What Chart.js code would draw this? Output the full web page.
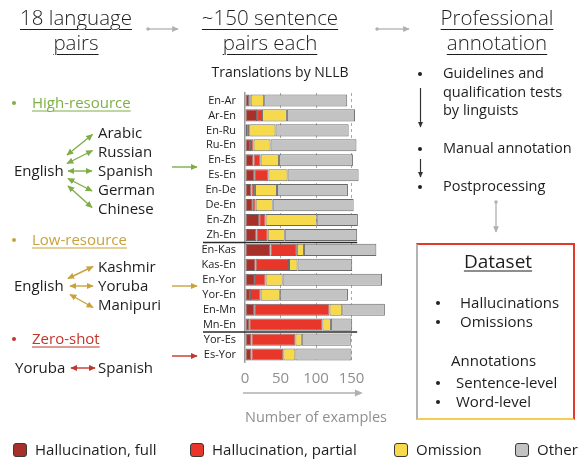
<!DOCTYPE html>
<html>
<head>
<meta charset="utf-8">
<script src="https://cdn.jsdelivr.net/npm/chart.js@4.4.1/dist/chart.umd.min.js"></script>
<style>
  html, body { margin: 0; padding: 0; background: #fff; }
  body { width: 583px; height: 463px; position: relative; overflow: hidden; font-family: "Open Sans", sans-serif; color: #1e1e1e; }
  #wrap { position: absolute; left: 0; top: 0; width: 583px; height: 463px; }
  svg { position: absolute; left: 0; top: 0; }
  .t { position: absolute; white-space: nowrap; line-height: 1; transform: translateY(-50%); font-size: 15px; }
  .c { transform: translate(-50%, -50%); }
  .u { text-decoration: underline; text-decoration-thickness: 1px; text-underline-offset: 3px; }
  .head { position: absolute; font-size: 20.5px; font-weight: 300; line-height: 25px; text-align: center; transform: translateX(-50%); white-space: nowrap;
          text-decoration: underline; text-decoration-thickness: 1px; text-underline-offset: 4px; }
  .dot { position: absolute; width: 4px; height: 4px; border-radius: 50%; transform: translate(-50%, -50%); }
  .r { font-size: 14.5px; }
  #box { position: absolute; left: 416px; top: 243px; width: 159px; height: 177px; box-sizing: border-box;
         border-top: 2px solid #e3392b; border-right: 2px solid #e3392b; border-left: 2px solid #b4b4b4; border-bottom: 2px solid #f1cf52; }
  .lbox { position: absolute; width: 14px; height: 14px; box-sizing: border-box; border: 1px solid #3a3a3a; border-radius: 3px; }
</style>
</head>
<body>
<div id="wrap"><canvas id="chart"></canvas></div>

<!-- headers -->
<div class="head" style="left:76px; top:5px;">18 language<br>pairs</div>
<div class="head" style="left:270px; top:5px;">~150 sentence<br>pairs each</div>
<div class="head" style="left:497px; top:5px;">Professional<br>annotation</div>
<div class="t c" style="left:280px; top:72px; font-size:14px;">Translations by NLLB</div>

<!-- left panel -->
<div class="dot" style="left:14px; top:103px; background:#7fae47;"></div>
<div class="t u" style="left:32px; top:102px; color:#7fae47;">High-resource</div>
<div class="t" style="left:98px; top:132px;">Arabic</div>
<div class="t" style="left:98px; top:151px;">Russian</div>
<div class="t" style="left:98px; top:170px;">Spanish</div>
<div class="t" style="left:98px; top:189px;">German</div>
<div class="t" style="left:98px; top:208px;">Chinese</div>
<div class="t" style="left:14px; top:170px;">English</div>

<div class="dot" style="left:14px; top:240px; background:#c9a23d;"></div>
<div class="t u" style="left:32px; top:239px; color:#c9a23d;">Low-resource</div>
<div class="t" style="left:98px; top:266px;">Kashmir</div>
<div class="t" style="left:98px; top:285px;">Yoruba</div>
<div class="t" style="left:98px; top:304px;">Manipuri</div>
<div class="t" style="left:14px; top:285px;">English</div>

<div class="dot" style="left:14px; top:339px; background:#c2362b;"></div>
<div class="t u" style="left:32px; top:338px; color:#c2362b;">Zero-shot</div>
<div class="t" style="left:15px; top:367px;">Yoruba</div>
<div class="t" style="left:98px; top:367px;">Spanish</div>

<!-- right panel -->
<div class="dot" style="left:420px; top:74px; background:#222;"></div>
<div class="t r" style="left:443px; top:73px;">Guidelines and</div>
<div class="t r" style="left:443px; top:92px;">qualification tests</div>
<div class="t r" style="left:443px; top:110px;">by linguists</div>
<div class="dot" style="left:420px; top:149px; background:#222;"></div>
<div class="t r" style="left:443px; top:148px;">Manual annotation</div>
<div class="dot" style="left:420px; top:187px; background:#222;"></div>
<div class="t r" style="left:443px; top:186px;">Postprocessing</div>

<div id="box"></div>
<div class="t c u" style="left:498px; top:261px; font-size:19px;">Dataset</div>
<div class="dot" style="left:438px; top:303px; background:#222;"></div>
<div class="t" style="left:460px; top:302px;">Hallucinations</div>
<div class="dot" style="left:438px; top:322px; background:#222;"></div>
<div class="t" style="left:460px; top:321px;">Omissions</div>
<div class="t" style="left:451px; top:360px;">Annotations</div>
<div class="dot" style="left:438px; top:383px; background:#222;"></div>
<div class="t" style="left:456px; top:382px;">Sentence-level</div>
<div class="dot" style="left:438px; top:402px; background:#222;"></div>
<div class="t" style="left:456px; top:401px;">Word-level</div>

<div id="legend"></div>

<svg width="583" height="463">
  <defs>
    <marker id="mg" viewBox="0 0 10 10" refX="9" refY="5" markerWidth="5" markerHeight="5" orient="auto-start-reverse"><path d="M0,0.5 L10,5 L0,9.5 z" fill="#7fae47"/></marker>
    <marker id="my" viewBox="0 0 10 10" refX="9" refY="5" markerWidth="5" markerHeight="5" orient="auto-start-reverse"><path d="M0,0.5 L10,5 L0,9.5 z" fill="#c9a23d"/></marker>
    <marker id="mr" viewBox="0 0 10 10" refX="9" refY="5" markerWidth="5" markerHeight="5" orient="auto-start-reverse"><path d="M0,0.5 L10,5 L0,9.5 z" fill="#c2362b"/></marker>
    <marker id="mk" viewBox="0 0 10 10" refX="9" refY="5" markerWidth="5" markerHeight="5" orient="auto"><path d="M0,0.5 L10,5 L0,9.5 z" fill="#333"/></marker>
    <marker id="ma" viewBox="0 0 10 10" refX="9" refY="5" markerWidth="5" markerHeight="5" orient="auto"><path d="M0,0.5 L10,5 L0,9.5 z" fill="#b0b0b0"/></marker>
  </defs>
  <g stroke="#7fae47" stroke-width="1.4" marker-start="url(#mg)" marker-end="url(#mg)">
    <line x1="67" y1="155" x2="92.5" y2="134.5"/>
    <line x1="67" y1="163.5" x2="92.5" y2="150.5"/>
    <line x1="68" y1="171" x2="92" y2="171"/>
    <line x1="68" y1="178.5" x2="92" y2="191"/>
    <line x1="68" y1="186" x2="92" y2="207.5"/>
  </g>
  <line x1="172" y1="167" x2="197" y2="167" stroke="#7fae47" stroke-width="1.4" marker-end="url(#mg)"/>
  <g stroke="#c9a23d" stroke-width="1.4" marker-start="url(#my)" marker-end="url(#my)">
    <line x1="68" y1="278.5" x2="93" y2="266.5"/>
    <line x1="70" y1="286" x2="93" y2="286"/>
    <line x1="70" y1="294.5" x2="93" y2="307.5"/>
  </g>
  <line x1="172" y1="286" x2="197" y2="286" stroke="#c9a23d" stroke-width="1.4" marker-end="url(#my)"/>
  <line x1="71" y1="368" x2="95" y2="368" stroke="#c2362b" stroke-width="1.4" marker-start="url(#mr)" marker-end="url(#mr)"/>
  <line x1="172" y1="356" x2="197" y2="356" stroke="#c2362b" stroke-width="1.4" marker-end="url(#mr)"/>

  <g stroke="#b0b0b0" stroke-width="1.3" marker-end="url(#ma)">
    <line x1="148" y1="29" x2="178" y2="29"/>
    <line x1="377" y1="29" x2="409" y2="29"/>
    <line x1="496" y1="202" x2="496" y2="232"/>
  </g>
  <g fill="#b0b0b0">
    <circle cx="148" cy="29" r="1.7"/>
    <circle cx="377" cy="29" r="1.7"/>
    <circle cx="496" cy="202" r="1.7"/>
  </g>
  <g stroke="#333" stroke-width="1.2" marker-end="url(#mk)">
    <line x1="420.5" y1="88" x2="420.5" y2="127"/>
    <line x1="420.5" y1="159" x2="420.5" y2="177"/>
  </g>
</svg>

<script>
// language pairs, top to bottom
const pairs = ["En-Ar", "Ar-En", "En-Ru", "Ru-En", "En-Es", "Es-En", "En-De", "De-En", "En-Zh", "Zh-En",
               "En-Kas", "Kas-En", "En-Yor", "Yor-En", "En-Mn", "Mn-En", "Yor-Es", "Es-Yor"];

// number of examples per category
const hallFull    = [6, 17, 3, 7, 12, 13, 9, 11, 20, 16, 36, 15, 14, 7, 13, 6, 9, 9];
const hallPartial = [2, 7, 3, 5, 10, 20, 5, 4, 9, 16, 37, 47, 15, 15, 106, 103, 62, 45];
const omission    = [19, 35, 37, 24, 26, 27, 31, 24, 72, 24, 10, 12, 24, 27, 18, 12, 9, 17];
const other       = [117, 96, 103, 121, 104, 100, 100, 114, 58, 102, 102, 77, 140, 96, 60, 30, 69, 79];

const xTicks = [0, 50, 100, 150];
const groupStarts = [10, 16]; // low-resource and zero-shot blocks start here

const seriesNames  = ["Hallucination, full", "Hallucination, partial", "Omission", "Other"];
const seriesColors = ["#a8302b", "#e9362a", "#f7d94c", "#c3c3c3"];
const seriesData   = [hallFull, hallPartial, omission, other];

const font = { family: "Open Sans" };

const decor = {
  id: "decor",
  afterDraw(chart) {
    const { ctx, chartArea, scales: { x, y } } = chart;
    ctx.save();
    ctx.strokeStyle = "#2a2a2a";
    ctx.lineWidth = 1.5;
    groupStarts.forEach((i) => {
      const yy = (y.getPixelForValue(i - 1) + y.getPixelForValue(i)) / 2;
      ctx.beginPath();
      ctx.moveTo(chartArea.left - 42, yy);
      ctx.lineTo(x.getPixelForValue(158), yy);
      ctx.stroke();
    });
    // arrow under the axis
    const ay = chartArea.bottom + 31;
    const x0 = chartArea.left - 2, x1 = x.getPixelForValue(166);
    ctx.strokeStyle = "#b0b0b0";
    ctx.fillStyle = "#b0b0b0";
    ctx.lineWidth = 1.5;
    ctx.beginPath(); ctx.moveTo(x0, ay); ctx.lineTo(x1 - 4, ay); ctx.stroke();
    ctx.beginPath(); ctx.moveTo(x1, ay); ctx.lineTo(x1 - 8, ay - 3.5); ctx.lineTo(x1 - 8, ay + 3.5); ctx.closePath(); ctx.fill();
    ctx.restore();
  },
};

new Chart(document.getElementById("chart"), {
  type: "bar",
  data: {
    labels: pairs,
    datasets: seriesNames.map((name, i) => ({
      label: name,
      data: seriesData[i],
      backgroundColor: seriesColors[i],
      borderColor: "#6a6a6a",
      borderWidth: 1,
      borderSkipped: false,
      barPercentage: 0.81,
      categoryPercentage: 1,
    })),
  },
  options: {
    indexAxis: "y",
    responsive: true,
    maintainAspectRatio: false,
    animation: false,
    layout: { padding: { left: 190, right: 196, top: 93, bottom: 36 } },
    plugins: { legend: { display: false }, tooltip: { enabled: false } },
    scales: {
      x: {
        stacked: true,
        min: 0,
        max: 200,
        afterBuildTicks: (s) => { s.ticks = xTicks.map((v) => ({ value: v })); },
        grid: { color: (c) => (c.tick && c.tick.value === 0 ? "transparent" : "#a8a8a8"), drawTicks: false, lineWidth: 1 },
        border: { display: false, dash: [3, 3] },
        ticks: { color: "#8f8f8f", padding: 8, font: { ...font, size: 15 } },
        title: { display: true, text: "Number of examples", align: "start", color: "#8f8f8f",
                 font: { ...font, size: 15 }, padding: { top: 13, bottom: 0 } },
      },
      y: {
        stacked: true,
        afterFit: (s) => { s.width = 55; },
        grid: { display: false, drawTicks: false },
        border: { display: true, color: "#9a9a9a", width: 1.5 },
        ticks: { color: "#222", padding: 9, autoSkip: false, font: { ...font, size: 11 } },
      },
    },
  },
  plugins: [decor],
});

// legend built from the series
const legendX = [13, 190, 394, 515];
const legend = document.getElementById("legend");
seriesNames.forEach((name, i) => {
  const b = document.createElement("div");
  b.className = "lbox";
  b.style.left = legendX[i] + "px";
  b.style.top = "443px";
  b.style.background = seriesColors[i];
  legend.appendChild(b);
  const t = document.createElement("div");
  t.className = "t";
  t.style.left = (legendX[i] + 22) + "px";
  t.style.top = "449px";
  t.textContent = name;
  legend.appendChild(t);
});
</script>
</body>
</html>
